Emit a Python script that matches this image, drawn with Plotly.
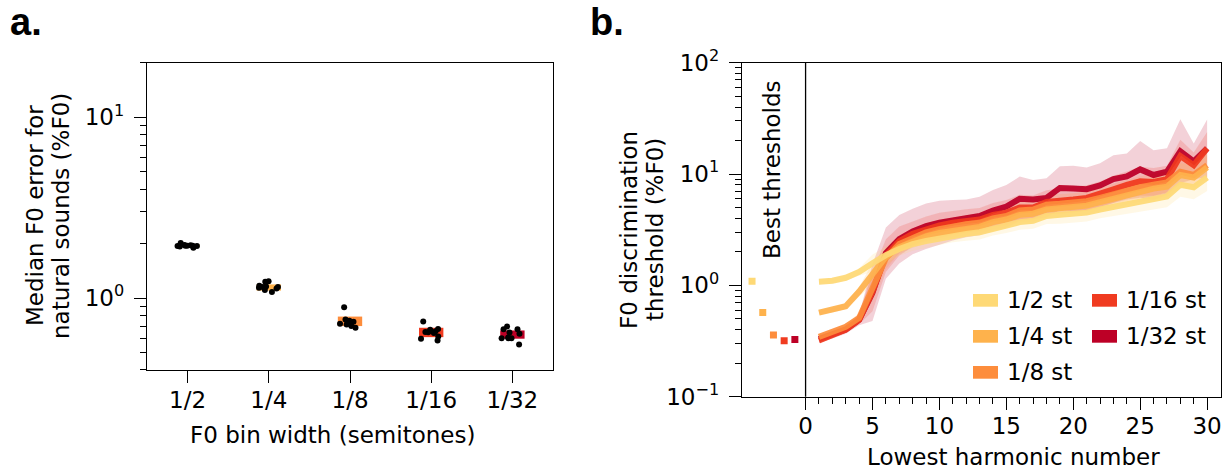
import plotly.graph_objects as go

W, H = 1226, 472
FONT = "DejaVu Sans"
FS = 23

# ---------------- data: panel a ----------------
bin_labels = ["1/2", "1/4", "1/8", "1/16", "1/32"]
bin_colors = ["#fed976", "#feb24c", "#fd8d3c", "#f03b20", "#bd0026"]
box_low = [1.92, 1.10, 0.70, 0.608, 0.596]
box_high = [1.98, 1.19, 0.79, 0.685, 0.662]
err_1_2 = [1.96, 1.95, 1.94, 1.95, 1.93, 1.94, 1.95, 1.97, 2.02, 1.90]
err_1_4 = [1.24, 1.15, 1.11, 1.14, 1.17, 1.23, 1.13, 1.08, 1.15, 1.16]
err_1_8 = [0.72, 0.70, 0.72, 0.74, 0.76, 0.89, 0.685, 0.73, 0.715, 0.75]
err_1_16 = [0.613, 0.668, 0.583, 0.648, 0.655, 0.675, 0.743, 0.596, 0.64, 0.65]
err_1_32 = [0.60, 0.673, 0.60, 0.673, 0.605, 0.635, 0.697, 0.553, 0.60, 0.645]

# ---------------- data: panel b ----------------
harmonics = list(range(1, 31))
thr_1_2 = [1.08, 1.10, 1.17, 1.32, 1.58, 1.87, 2.12, 2.35, 2.5, 2.65, 2.8, 2.9, 3.0, 3.25, 3.45,
           3.7, 3.8, 4.2, 4.3, 4.4, 4.5, 4.8, 5.1, 5.4, 5.7, 6.0, 6.3, 8.0, 7.6, 9.3]
thr_1_4 = [0.57, 0.60, 0.65, 0.88, 1.28, 1.8, 2.2, 2.5, 2.75, 2.95, 3.1, 3.25, 3.35, 3.7, 3.9,
           4.3, 4.4, 4.8, 4.9, 5.0, 5.2, 5.6, 6.0, 6.5, 7.0, 7.4, 7.7, 9.8, 9.3, 11.5]
thr_1_8 = [0.345, 0.38, 0.425, 0.51, 0.97, 1.75, 2.35, 2.7, 3.0, 3.2, 3.4, 3.55, 3.65, 4.0, 4.2,
           4.7, 4.8, 5.3, 5.4, 5.5, 5.7, 6.1, 6.6, 7.1, 7.6, 8.0, 8.4, 10.5, 9.8, 12.0]
thr_1_16 = [0.32, 0.355, 0.40, 0.49, 0.88, 1.85, 2.5, 2.9, 3.2, 3.45, 3.65, 3.8, 3.9, 4.3, 4.5,
            5.0, 5.0, 5.6, 5.7, 5.9, 6.1, 6.6, 7.3, 8.0, 8.6, 8.5, 9.0, 14.5, 12.0, 17.0]
thr_1_32 = [0.33, 0.36, 0.40, 0.49, 0.86, 1.95, 2.6, 3.05, 3.4, 3.65, 3.85, 4.0, 4.2, 4.7, 5.1,
            6.0, 5.9, 6.1, 7.5, 7.4, 7.3, 7.9, 9.0, 9.5, 11.0, 9.8, 10.5, 16.0, 13.0, 17.0]
# multiplicative spread of the shaded bands
spread_1_2 = [1.04, 1.04, 1.05, 1.08, 1.2, 1.18, 1.15, 1.15, 1.15, 1.15, 1.15, 1.15, 1.16, 1.16, 1.17,
              1.17, 1.18, 1.18, 1.2, 1.2, 1.2, 1.2, 1.22, 1.22, 1.24, 1.25, 1.25, 1.28, 1.28, 1.32]
spread_1_4 = [1.04, 1.05, 1.06, 1.1, 1.25, 1.2, 1.15, 1.15, 1.15, 1.15, 1.15, 1.15, 1.16, 1.16, 1.17,
              1.17, 1.18, 1.18, 1.2, 1.2, 1.2, 1.2, 1.22, 1.22, 1.24, 1.25, 1.25, 1.28, 1.28, 1.3]
spread_1_8 = [1.05, 1.05, 1.06, 1.1, 1.35, 1.25, 1.2, 1.2, 1.2, 1.2, 1.2, 1.2, 1.2, 1.2, 1.2,
              1.2, 1.2, 1.22, 1.22, 1.22, 1.22, 1.22, 1.24, 1.24, 1.26, 1.26, 1.26, 1.3, 1.28, 1.3]
spread_1_16 = [1.06, 1.06, 1.07, 1.1, 1.5, 1.4, 1.35, 1.3, 1.3, 1.3, 1.28, 1.27, 1.27, 1.28, 1.3,
               1.3, 1.28, 1.28, 1.3, 1.3, 1.3, 1.3, 1.32, 1.32, 1.35, 1.33, 1.32, 1.4, 1.3, 1.4]
spread_1_32 = [1.08, 1.08, 1.09, 1.12, 1.8, 1.7, 1.65, 1.6, 1.6, 1.58, 1.52, 1.48, 1.49, 1.53, 1.56,
               1.58, 1.5, 1.5, 1.57, 1.6, 1.57, 1.58, 1.64, 1.61, 1.8, 1.67, 1.62, 1.94, 1.45, 1.82]
best_pos = [-4.0, -3.2, -2.4, -1.6, -0.8]
best_thr = [1.09, 0.57, 0.358, 0.318, 0.327]
legend_labels = ["1/2 st", "1/4 st", "1/8 st", "1/16 st", "1/32 st"]

a_err = [err_1_2, err_1_4, err_1_8, err_1_16, err_1_32]
b_thr = [thr_1_2, thr_1_4, thr_1_8, thr_1_16, thr_1_32]
b_spread = [spread_1_2, spread_1_4, spread_1_8, spread_1_16, spread_1_32]


def rgba(hexc, a):
    h = hexc.lstrip("#")
    return "rgba(%d,%d,%d,%.3f)" % (int(h[0:2], 16), int(h[2:4], 16), int(h[4:6], 16), a)


def px(x):
    return x / W


def py(y):
    return 1 - y / H


fig = go.Figure()

# ---- panel a ----
fig.add_trace(go.Bar(
    x=bin_labels, y=[h - l for h, l in zip(box_high, box_low)], base=box_low,
    width=0.3, marker=dict(color=bin_colors, line=dict(width=0)),
    xaxis="x", yaxis="y", showlegend=False, hoverinfo="skip"))
xs, ys = [], []
for lab, vals in zip(bin_labels, a_err):
    xs += [lab] * len(vals)
    ys += vals
fig.add_trace(go.Box(
    x=xs, y=ys, boxpoints="all", jitter=1, pointpos=0, width=0.3,
    fillcolor="rgba(0,0,0,0)", line=dict(color="rgba(0,0,0,0)", width=0),
    marker=dict(color="black", size=6), xaxis="x", yaxis="y", showlegend=False))

# ---- panel b ----
for i in reversed(range(5)):
    up = [v * s for v, s in zip(b_thr[i], b_spread[i])]
    lo = [v / s for v, s in zip(b_thr[i], b_spread[i])]
    fig.add_trace(go.Scatter(
        x=harmonics + harmonics[::-1], y=up + lo[::-1], fill="toself",
        fillcolor=rgba(bin_colors[i], 0.18), line=dict(width=0), mode="lines",
        xaxis="x2", yaxis="y2", showlegend=False, hoverinfo="skip"))
for i in reversed(range(5)):
    fig.add_trace(go.Scatter(
        x=harmonics, y=b_thr[i], mode="lines", line=dict(color=bin_colors[i], width=6),
        opacity=0.92, xaxis="x2", yaxis="y2", showlegend=False))
fig.add_trace(go.Scatter(
    x=best_pos, y=best_thr, mode="markers",
    marker=dict(symbol="square", size=7, color=bin_colors, line=dict(width=0)),
    xaxis="x2", yaxis="y2", showlegend=False))

minor_log_a = [0.4, 0.5, 0.6, 0.7, 0.8, 0.9, 2, 3, 4, 5, 6, 7, 8, 9, 20]
minor_log_b = [m * d for d in (0.1, 1, 10) for m in range(2, 10)]
axis_common = dict(showline=True, linecolor="black", linewidth=1.3, mirror=True,
                   ticks="outside", ticklen=12, tickwidth=1.3, tickcolor="black",
                   showgrid=False, zeroline=False, automargin=False,
                   tickfont=dict(family=FONT, size=FS, color="black"))
minor_common = dict(tickmode="array", ticks="outside", ticklen=6, tickwidth=1.1,
                    tickcolor="black")

fig.update_layout(
    width=W, height=H, margin=dict(l=0, r=0, t=0, b=0),
    paper_bgcolor="white", plot_bgcolor="white", showlegend=False,
    barmode="overlay",
    font=dict(family=FONT, size=FS, color="black"),
    xaxis=dict(domain=[px(147), px(553)], anchor="y", type="category",
               range=[-0.5, 4.5], ticklabelstandoff=-3, **axis_common),
    yaxis=dict(domain=[py(370), py(63)], anchor="x", type="log",
               range=[-0.398, 1.301], tickmode="array", tickvals=[1, 10],
               ticktext=["10<sup>0</sup>", "10<sup>1</sup>"], ticklabelstandoff=5,
               minor=dict(tickvals=minor_log_a, **minor_common),
               **axis_common),
    xaxis2=dict(domain=[px(742), px(1220.5)], anchor="y2", range=[-4.75, 31.0],
                tickmode="array", tickvals=[0, 5, 10, 15, 20, 25, 30], ticklabelstandoff=-3,
                minor=dict(tickvals=[v for v in range(1, 31) if v % 5], **minor_common),
                **axis_common),
    yaxis2=dict(domain=[py(396.7), py(62.7)], anchor="x2", type="log",
                range=[-1, 2], tickmode="array", tickvals=[0.1, 1, 10, 100],
                ticktext=["10<sup>\u22121</sup>", "10<sup>0</sup>", "10<sup>1</sup>", "10<sup>2</sup>"],
                ticklabelstandoff=5,
                minor=dict(tickvals=minor_log_b, **minor_common),
                **axis_common),
)

shapes = [dict(type="line", xref="x2", yref="y2 domain", x0=0, x1=0, y0=0, y1=1,
               line=dict(color="black", width=1.3))]
# legend patches (panel b)
leg_pos = [(973, 294), (973, 330), (973, 366), (1092, 294), (1092, 330)]
for (lx, ly), c in zip(leg_pos, bin_colors):
    shapes.append(dict(type="rect", xref="paper", yref="paper", layer="above",
                       x0=px(lx), x1=px(lx + 25), y0=py(ly + 12.7), y1=py(ly),
                       fillcolor=c, line=dict(width=0)))
fig.update_layout(shapes=shapes)

ann = []
for (lx, ly), t in zip(leg_pos, legend_labels):
    ann.append(dict(text=t, x=px(lx + 32), y=py(ly + 6.3),
                    xanchor="left", yanchor="middle", font=dict(family=FONT, size=FS)))
ann += [
    dict(text="<b>a.</b>", x=px(8), y=py(45), xanchor="left", yanchor="bottom",
         font=dict(family="Liberation Sans", size=38)),
    dict(text="<b>b.</b>", x=px(588), y=py(45), xanchor="left", yanchor="bottom",
         font=dict(family="Liberation Sans", size=38)),
    dict(text="F0 bin width (semitones)", x=px(332), y=py(435), xanchor="center",
         yanchor="middle", font=dict(family=FONT, size=FS)),
    dict(text="Lowest harmonic number", x=px(1013), y=py(457), xanchor="center",
         yanchor="middle", font=dict(family=FONT, size=FS)),
    dict(text="Median F0 error for", x=px(35), y=py(216),
         textangle=-90, xanchor="center", yanchor="middle", font=dict(family=FONT, size=FS)),
    dict(text="natural sounds (%F0)", x=px(61), y=py(216),
         textangle=-90, xanchor="center", yanchor="middle", font=dict(family=FONT, size=FS)),
    dict(text="F0 discrimination", x=px(629), y=py(230),
         textangle=-90, xanchor="center", yanchor="middle", font=dict(family=FONT, size=FS)),
    dict(text="threshold (%F0)", x=px(655), y=py(230),
         textangle=-90, xanchor="center", yanchor="middle", font=dict(family=FONT, size=FS)),
    dict(text="Best thresholds", x=px(772), y=py(170), textangle=-90,
         xanchor="center", yanchor="middle", font=dict(family=FONT, size=FS)),
]
for a in ann:
    a.setdefault("xref", "paper")
    a.setdefault("yref", "paper")
    a.setdefault("showarrow", False)
fig.update_layout(annotations=ann)

fig.write_html("out.html", config={"displayModeBar": False},
               post_script="document.body.style.margin='0';")
